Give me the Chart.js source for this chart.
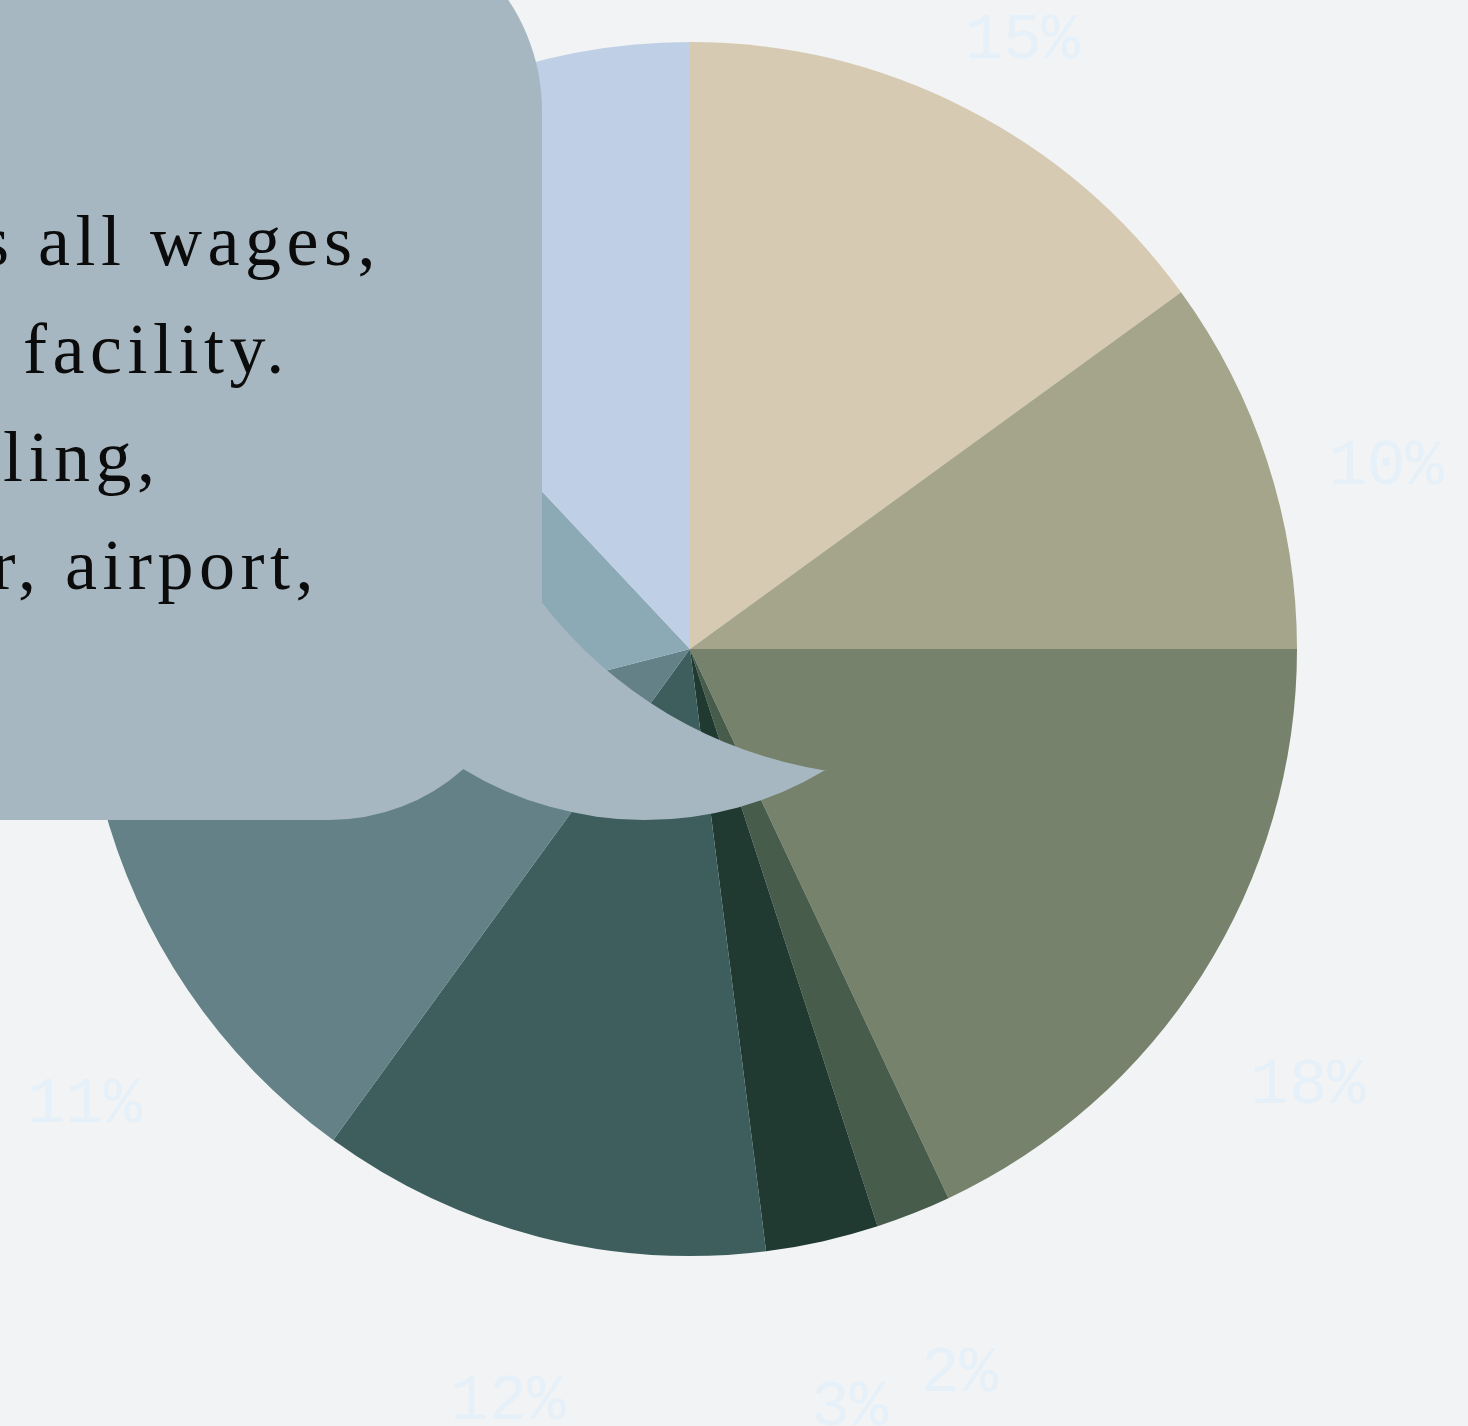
<!DOCTYPE html>
<html>
<head>
<meta charset="utf-8">
<script src="https://cdn.jsdelivr.net/npm/chart.js@4/dist/chart.umd.min.js"></script>
<style>
  html, body { margin: 0; padding: 0; background: #f1f3f5; overflow: hidden; }
  #wrap { width: 1468px; height: 1426px; }
</style>
</head>
<body>
<div id="wrap"><canvas id="costChart" width="1468" height="1426"></canvas></div>
<script>
// Données du graphique
const categories = ["Materials", "Packaging", "Energy", "Water", "Waste", "Maintenance", "Depreciation", "Operations", "Logistics"];
const shares = [15, 10, 18, 2, 3, 12, 11, 17, 12];
const sliceColors = ["#d7cab3", "#a5a58c", "#76826b", "#485c4b", "#203a31", "#3d5e5c", "#638186", "#8ca9b6", "#bfcfe5"];
const shareLabels = shares.map(v => v + "%");

// Texte de la bulle : [début caché, partie visible, x de la partie visible, ligne de base]
const noteLines = [
  ["Operations covers ", "all wages,", 38, 265],
  ["rent and upkeep of the ", "facility.", 23, 373],
  ["power for the buil", "ling,", 3, 481],
  ["and fees for harbor, ", "airport,", 65, 589]
];

// Étiquettes de pourcentage autour du camembert
const outerLabels = {
  id: "outerLabels",
  afterDatasetsDraw(chart) {
    const ctx = chart.ctx;
    const arcs = chart.getDatasetMeta(0).data;
    ctx.save();
    ctx.font = "64px 'Liberation Mono'";
    ctx.fillStyle = "#e6f0f8";
    ctx.textAlign = "center";
    ctx.textBaseline = "middle";
    arcs.forEach((arc, i) => {
      const mid = (arc.startAngle + arc.endAngle) / 2;
      const r = arc.outerRadius * 1.206;
      const x = arc.x + Math.cos(mid) * r;
      const y = arc.y + Math.sin(mid) * r + arc.outerRadius * 0.073;
      ctx.fillText(shareLabels[i], x, y);
    });
    ctx.restore();
  }
};

// Bulle de commentaire
const noteBubble = {
  id: "noteBubble",
  afterDraw(chart) {
    const ctx = chart.ctx;
    ctx.save();
    ctx.fillStyle = "#a6b7c1";
    ctx.beginPath();
    ctx.moveTo(-800, -89);
    ctx.lineTo(342, -89);
    ctx.arc(342, 111, 200, -Math.PI / 2, 0);
    ctx.lineTo(542, 603);
    ctx.arc(895, 330, 446, Math.atan2(273, -353), Math.atan2(441, -69), true);
    ctx.arc(645, 470, 350, Math.atan2(301, 181), Math.atan2(299, -182), false);
    ctx.arc(330, 620, 200, Math.atan2(149, 133), Math.PI / 2, false);
    ctx.lineTo(-800, 820);
    ctx.closePath();
    ctx.fill();

    ctx.fillStyle = "#0b0b0b";
    ctx.font = "72px 'Liberation Serif'";
    ctx.letterSpacing = "5.5px";
    ctx.textAlign = "left";
    ctx.textBaseline = "alphabetic";
    noteLines.forEach(line => {
      const w = ctx.measureText(line[0]).width;
      ctx.fillText(line[0] + line[1], line[2] - w, line[3]);
    });
    ctx.restore();
  }
};

new Chart(document.getElementById("costChart"), {
  type: "pie",
  data: {
    labels: categories,
    datasets: [{
      data: shares,
      backgroundColor: sliceColors,
      borderWidth: 0
    }]
  },
  options: {
    responsive: false,
    animation: false,
    layout: { padding: { left: 83, right: 171, top: 42, bottom: 170 } },
    plugins: {
      legend: { display: false },
      tooltip: { enabled: false }
    }
  },
  plugins: [outerLabels, noteBubble]
});
</script>
</body>
</html>
